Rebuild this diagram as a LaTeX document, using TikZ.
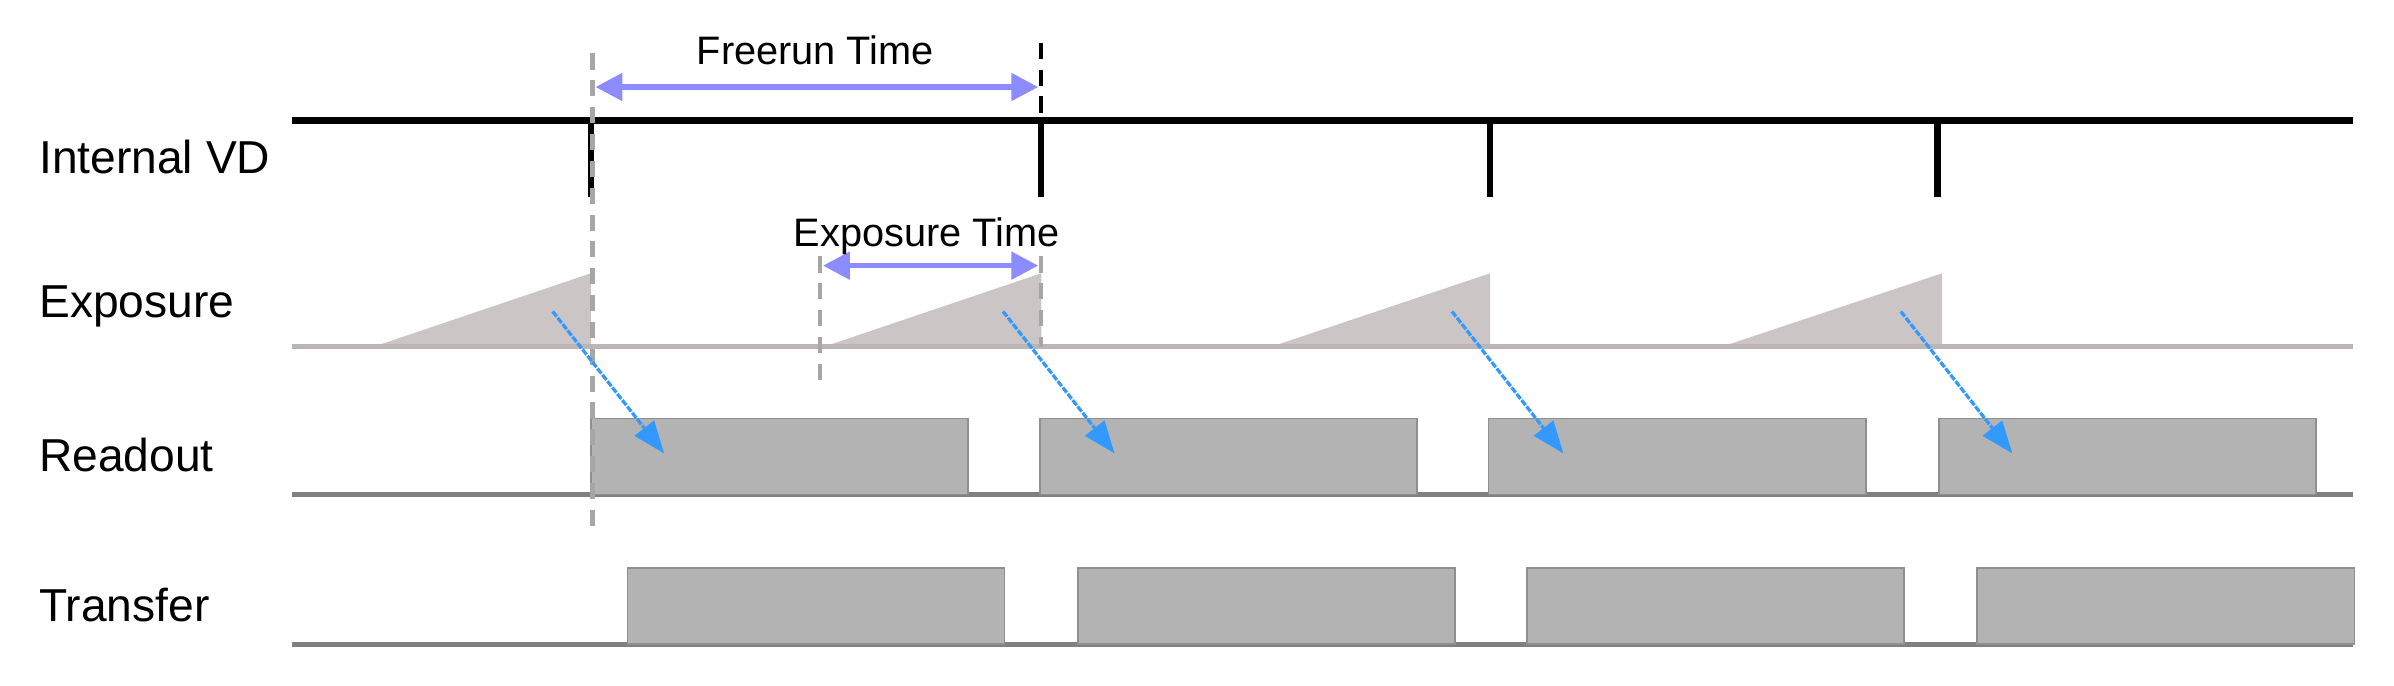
\documentclass[tikz,border=0pt]{standalone}
\usepackage{fontspec}
\setmainfont{Liberation Sans}
\usetikzlibrary{arrows.meta}
\definecolor{expg}{HTML}{CBC5C5}
\definecolor{boxg}{HTML}{B3B3B3}
\definecolor{basel}{HTML}{BDB5B5}
\definecolor{arrb}{HTML}{3399FF}
\definecolor{dimb}{HTML}{8C8CFF}
\begin{document}
\begin{tikzpicture}[x=0.01cm,y=-0.01cm,
  lab/.style={anchor=west,inner sep=0pt,font=\fontsize{8.6}{10}\selectfont},
  dimlab/.style={font=\fontsize{7.4}{9}\selectfont},
  dim/.style={dimb,line width=1pt,{Triangle[width=5pt,length=5pt]}-{Triangle[width=5pt,length=5pt]}},
  rd/.style={arrb,line width=0.6pt,dash pattern=on 1.2pt off 0.3pt,-{Triangle[width=4.5pt,length=6pt]}},
  box/.style={fill=boxg,draw=boxg!80!black,line width=0.3pt},
  tri/.style={fill=expg},
  gdash/.style={gray!70,line width=0.8pt,dash pattern=on 3pt off 2pt}]
\useasboundingbox (0,0) rectangle (1568,449);
% labels
\node[lab] (lvd) at (25,103) {Internal VD};
\node[lab] (lex) at (25,201) {Exposure};
\node[lab] (lro) at (25,298) {Readout};
\node[lab] (ltr) at (25,396) {Transfer};
% exposure triangles
\foreach \s/\e in {245/387,540/682,833/976,1128/1272}{
  \fill[tri] (\s,227) -- (\e,179) -- (\e,227) -- cycle;}
% baselines
\draw[basel,line width=1pt] (191,227) -- (1541,227);
\draw[gray,line width=1pt] (191,324) -- (1541,324);
\draw[gray,line width=1pt] (191,422) -- (1541,422);
% boxes
\foreach \s in {387,681,975,1270}{\draw[box] (\s,274) rectangle (\s+247,324);}
\foreach \s in {411,706,1000,1295}{\draw[box] (\s,372) rectangle (\s+247,422);}
% VD
\draw[black,line width=1.3pt] (191,79) -- (1541,79);
\foreach \x in {387,682,976,1269}{\draw[black,line width=1.2pt] (\x,79) -- (\x,129);}
% dashed markers
\draw[gdash] (388,35) -- (388,350);
\draw[black,line width=0.8pt,dash pattern=on 3pt off 2pt] (682,28) -- (682,79);
\draw[gdash] (537,168) -- (537,250);
\draw[gdash] (682,168) -- (682,227);
% dimension arrows
\coordinate (f1) at (390,57); \coordinate (f2) at (680,57);
\draw[dim] (f1) -- (f2);
\node[dimlab] (ft) at (534,33) {Freerun Time};
\coordinate (e1) at (539,174); \coordinate (e2) at (680,174);
\draw[dim] (e1) -- (e2);
\node[dimlab] (et) at (607,155) {Exposure Time};
% readout arrows
\foreach \x in {362,657,951,1245}{
  \coordinate (a\x) at (\x,204); \coordinate (b\x) at (\x+73,297);
  \draw[rd] (a\x) -- (b\x);}
\end{tikzpicture}
\end{document}
